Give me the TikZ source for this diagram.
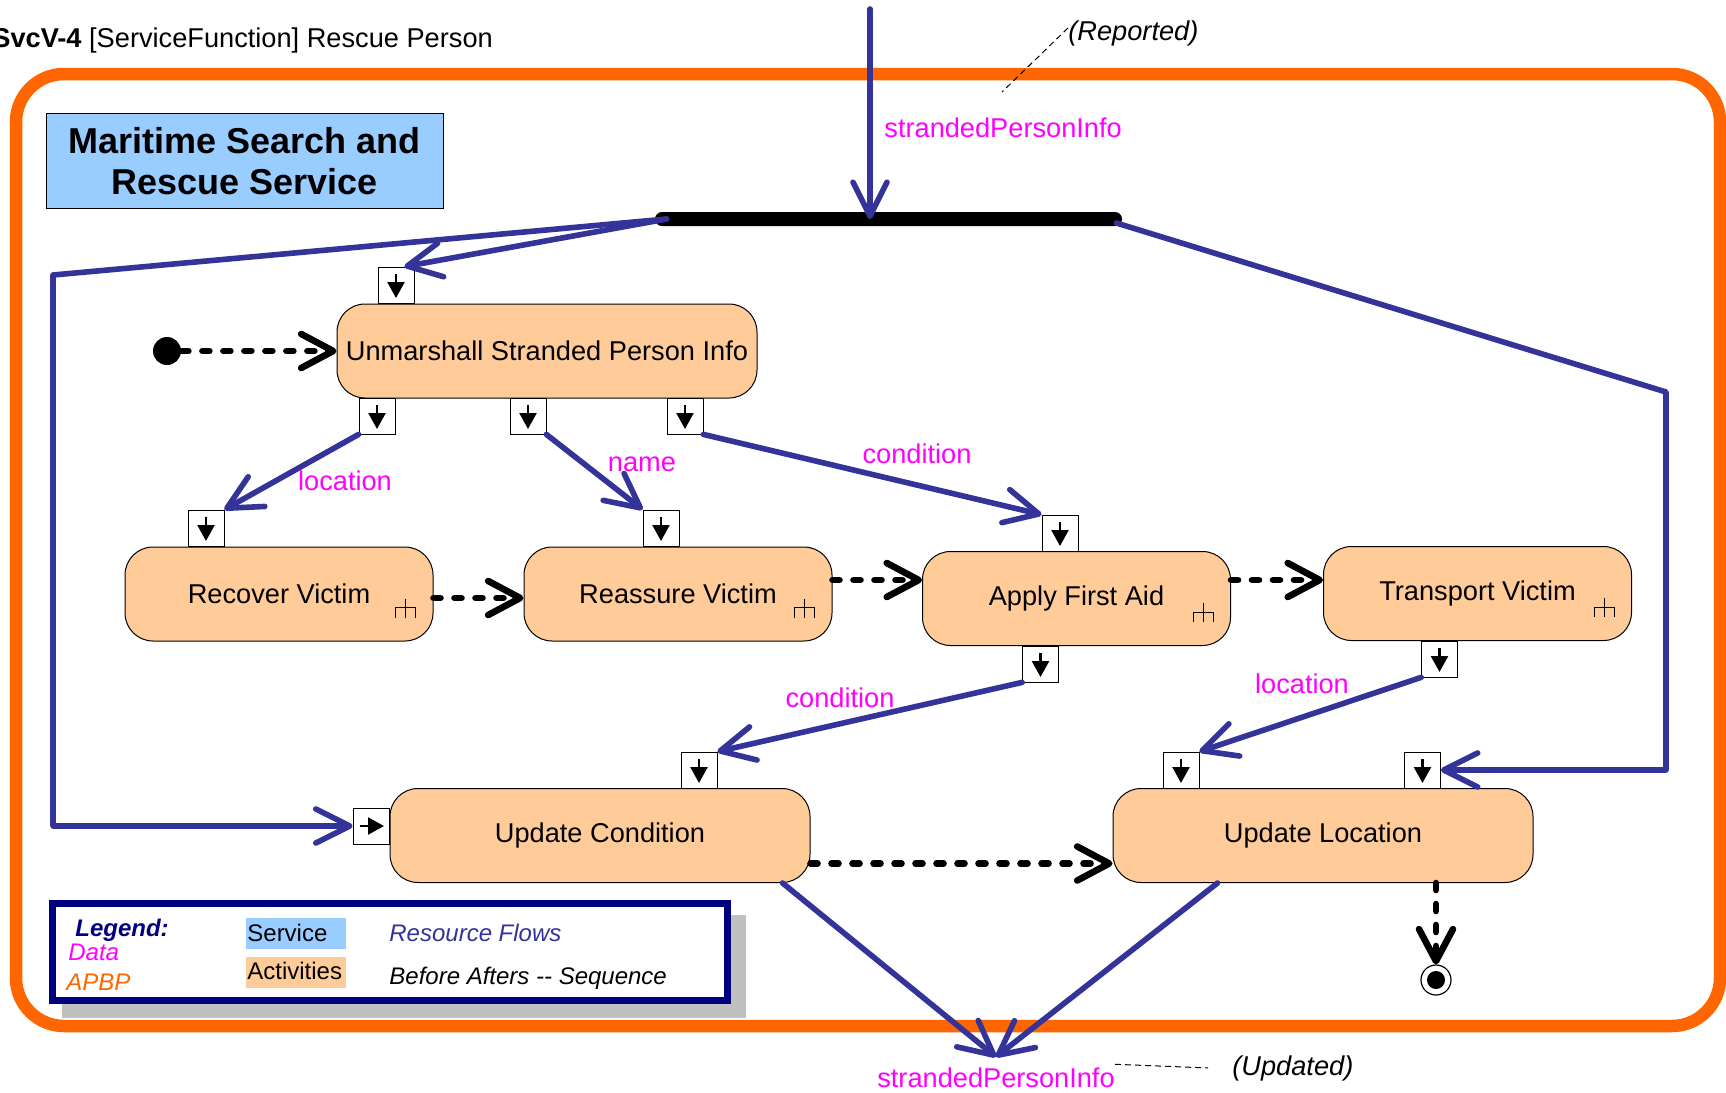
\documentclass[tikz,border=0pt]{standalone}
\usepackage{fontspec}
\setmainfont{Liberation Sans}
\usetikzlibrary{arrows.meta}
\definecolor{flowblue}{HTML}{333399}
\definecolor{datamag}{HTML}{FF00FF}
\definecolor{apbporange}{HTML}{FF6600}
\definecolor{actpeach}{HTML}{FFCC99}
\definecolor{svcblue}{HTML}{99CCFF}
\definecolor{legnavy}{HTML}{000080}
\definecolor{legshadow}{HTML}{C0C0C0}
\newcommand{\actfont}{\fontsize{13.6}{16}\selectfont}
\newcommand{\legfont}{\fontsize{12}{14}\selectfont}
\newcommand{\rakesym}[1]{\draw[line width=0.5pt] ([shift={(-28,-43)}]#1.south east) -- ++(0,19)
  ([shift={(-38,-24)}]#1.south east) -- ++(0,-10) -- ++(20,0) -- ++(0,10);}
\tikzset{
  activity/.style={draw, line width=0.5pt, fill=actpeach, rounded corners=14pt, minimum height=47pt, inner sep=2pt, font=\actfont},
  pinbox/.style={draw, line width=0.4pt, fill=white, minimum size=18pt, inner sep=0pt,
    path picture={\draw[black, line width=1.2pt, -{Triangle[length=8pt,width=8.5pt]}] ([yshift=-3.5pt]path picture bounding box.north) -- ([yshift=2.5pt]path picture bounding box.south);}},
  pinright/.style={draw, line width=0.4pt, fill=white, minimum size=18pt, inner sep=0pt,
    path picture={\draw[black, line width=1.2pt, -{Triangle[length=8pt,width=8.5pt]}] ([xshift=3.5pt]path picture bounding box.west) -- ([xshift=-2.5pt]path picture bounding box.east);}},
  flow/.style={draw=flowblue, line width=2.8pt, line cap=round, line join=round, -{Straight Barb[length=17pt,width=17pt,round]}},
  seqflow/.style={draw=black, line width=3.3pt, line cap=round, dash pattern=on 3.5pt off 7pt, -{Straight Barb[length=16pt,width=17pt,round]}},
  datalabel/.style={text=datamag, font=\actfont, inner sep=0pt},
  notelink/.style={line width=0.5pt, dash pattern=on 3pt off 2pt},
  plaintext/.style={anchor=base west, inner sep=0pt}
}
\begin{document}
\begin{tikzpicture}[x=0.5pt, y=-0.5pt]
\useasboundingbox (0,0) rectangle (1726,1093);
\node[plaintext, font=\actfont] (title) at (-8,47) {\textbf{SvcV-4} [ServiceFunction] Rescue Person};
\draw[apbporange, line width=6.25pt, rounded corners=24pt] (16,74) rectangle (1720,1026);
\node[draw, line width=0.5pt, fill=svcblue, minimum width=198.5pt, minimum height=47.5pt, align=center,
  font=\bfseries\fontsize{18}{20.5}\selectfont] (svc) at (244.5,161) {Maritime Search and\\Rescue Service};

\node[activity, minimum width=210pt] (us) at (547,351) {Unmarshall Stranded Person Info};
\node[activity, minimum width=154pt] (rv) at (279,594) {Recover Victim};
\node[activity, minimum width=154pt] (rs) at (678,594) {Reassure Victim};
\node[activity, minimum width=154pt] (af) at (1076.5,598.5) {Apply First Aid};
\node[activity, minimum width=154pt] (tv) at (1477.5,593.5) {Transport Victim};
\node[activity, minimum width=210pt] (uc) at (600,835.5) {Update Condition};
\node[activity, minimum width=210pt] (ul) at (1323,835.5) {Update Location};
\rakesym{rv}
\rakesym{rs}
\rakesym{af}
\rakesym{tv}

\node[pinbox] (p0) at (396,285) {};
\node[pinbox] (p1) at (377,416) {};
\node[pinbox] (p2) at (528,416) {};
\node[pinbox] (p3) at (685,416) {};
\node[pinbox] (rvin) at (206,528) {};
\node[pinbox] (rsin) at (661,528) {};
\node[pinbox] (afin) at (1060,533) {};
\node[pinbox] (afout) at (1040.5,664) {};
\node[pinbox] (tvout) at (1439.5,659) {};
\node[pinbox] (ucin) at (699,770) {};
\node[pinright] (ucleft) at (371,826) {};
\node[pinbox] (ulin1) at (1181,770) {};
\node[pinbox] (ulin2) at (1422.5,770) {};

\node[circle, fill=black, minimum size=14pt, inner sep=0pt] (init) at (167,351) {};
\node[circle, draw, line width=0.6pt, fill=white, minimum size=15pt, inner sep=0pt,
  path picture={\fill[black] (path picture bounding box.center) circle (4.5pt);}] (final) at (1436,980) {};
\node[fill=black, minimum width=233.5pt, minimum height=7pt, inner sep=0pt, rounded corners=3.5pt] (fork) at (888.5,219) {};

\coordinate (src) at (870,9);
\draw[flow] (src) -- (src |- fork.center);
\draw[flow] ([xshift=6pt]fork.west) -- ([xshift=-5pt]p0.north east);
\draw[flow] ([xshift=6pt]fork.west) -- (53,275) |- (ucleft.west);
\draw[flow] ([shift={(-3pt,-2pt)}]fork.east) -- (1666,392) |- (ulin2.east);
\draw[flow] (p1.south west) -- (rvin.north east);
\draw[flow] (p2.south east) -- (rsin.north west);
\draw[flow] (p3.south east) -- (afin.north west);
\draw[flow] (afout.south west) -- (ucin.north east);
\draw[flow] (tvout.south west) -- (ulin1.north east);

\node[datalabel, anchor=base west] (spiin) at (884,137) {strandedPersonInfo};
\node[datalabel, anchor=base] (spiout) at (996,1087) {strandedPersonInfo};
\node[datalabel, anchor=base] (lblloca) at (345,490) {location};
\node[datalabel, anchor=base] (lblname) at (642,471) {name};
\node[datalabel, anchor=base] (lblconda) at (917,463) {condition};
\node[datalabel, anchor=base] (lblcondb) at (840,707) {condition};
\node[datalabel, anchor=base] (lbllocb) at (1302,693) {location};
\draw[flow] ([xshift=-14pt]uc.south east) -- ([yshift=5pt]spiout.north);
\draw[flow] ([xshift=52.5pt]ul.south west) -- ([yshift=5pt]spiout.north);

\coordinate (seqmid) at (0,580);
\draw[seqflow] (init) -- (us.west);
\draw[seqflow] ([yshift=-2pt]rv.east) -- ([yshift=-2pt]rs.west);
\draw[seqflow] (rs.east |- seqmid) -- (af.west |- seqmid);
\draw[seqflow] (af.east |- seqmid) -- (tv.west |- seqmid);
\draw[seqflow] ([yshift=-14pt]uc.east) -- ([yshift=-14pt]ul.west);
\draw[seqflow] (final |- ul.south) -- (final.north);

\node[plaintext, font=\actfont\itshape] (reported) at (1068,40) {(Reported)};
\coordinate (repend) at (1002,92);
\draw[notelink] ([yshift=2.5pt]reported.west) -- (repend);
\node[plaintext, font=\actfont\itshape] (updated) at (1232,1075) {(Updated)};
\draw[notelink] ([yshift=6.5pt]spiout.east) -- ([xshift=-12pt]updated.west);

\fill[legshadow] (62,915) rectangle (746,1018);
\draw[legnavy, line width=3.5pt, fill=white] (52,903) rectangle (727,1000);
\node[plaintext, font=\legfont\bfseries\itshape, text=legnavy] (leg) at (75,936) {Legend:};
\node[plaintext, font=\legfont\itshape, text=datamag] (legdata) at (68,960) {Data};
\node[plaintext, font=\legfont\itshape, text=apbporange] (legapbp) at (66,990) {APBP};
\fill[svcblue] (246,918) rectangle (346,949);
\node[plaintext, font=\legfont] (legsvc) at (247,941) {Service};
\fill[actpeach] (246,957) rectangle (346,988);
\node[plaintext, font=\legfont] (legact) at (247,979) {Activities};
\node[plaintext, font=\legfont\itshape, text=flowblue] (legres) at (389,941) {Resource Flows};
\node[plaintext, font=\legfont\itshape] (legseq) at (389,984) {Before Afters -{}- Sequence};
\end{tikzpicture}
\end{document}
